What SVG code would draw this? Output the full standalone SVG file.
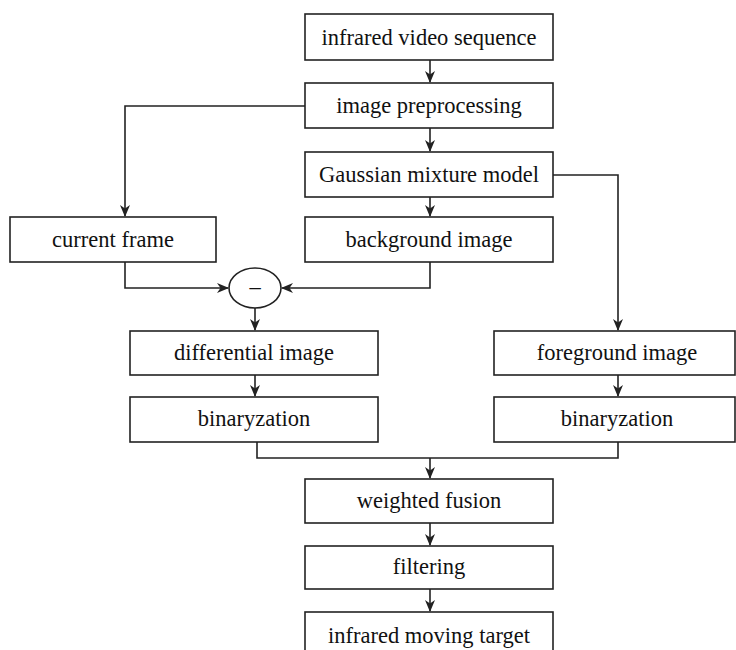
<svg xmlns="http://www.w3.org/2000/svg" width="736" height="650" viewBox="0 0 736 650">
<style>
.box{fill:#fff;stroke:#222;stroke-width:1.6}
.t{font-family:"Liberation Serif","DejaVu Serif",serif;font-size:22.5px;fill:#111;text-anchor:middle}
.c{fill:none;stroke:#222;stroke-width:1.6}
</style>
<defs>
<marker id="ah" markerWidth="12" markerHeight="10" refX="11" refY="5" orient="auto" markerUnits="userSpaceOnUse">
<path d="M0,0 L12,5 L0,10 L3.5,5 z" fill="#222"/>
</marker>
</defs>
<rect width="736" height="650" fill="#fff"/>
<g id="connectors">
<line class="c" x1="430" y1="60" x2="430" y2="82" marker-end="url(#ah)"/>
<line class="c" x1="430" y1="128" x2="430" y2="151" marker-end="url(#ah)"/>
<polyline class="c" points="305,106 125,106 125,216" marker-end="url(#ah)"/>
<line class="c" x1="430" y1="197" x2="430" y2="216" marker-end="url(#ah)"/>
<polyline class="c" points="553,175 618,175 618,330" marker-end="url(#ah)"/>
<polyline class="c" points="125,262 125,288 228,288" marker-end="url(#ah)"/>
<polyline class="c" points="430,262 430,288 282,288" marker-end="url(#ah)"/>
<line class="c" x1="255" y1="308" x2="255" y2="330" marker-end="url(#ah)"/>
<line class="c" x1="255" y1="375" x2="255" y2="396" marker-end="url(#ah)"/>
<line class="c" x1="618" y1="375" x2="618" y2="396" marker-end="url(#ah)"/>
<polyline class="c" points="257,442 257,458 618,458 618,442"/>
<line class="c" x1="430" y1="458" x2="430" y2="478" marker-end="url(#ah)"/>
<line class="c" x1="430" y1="523" x2="430" y2="545" marker-end="url(#ah)"/>
<line class="c" x1="430" y1="589" x2="430" y2="611" marker-end="url(#ah)"/>
</g>
<g id="n1"><rect class="box" x="305" y="14" width="248" height="46"/><text class="t" x="429" y="45">infrared video sequence</text></g>
<g id="n2"><rect class="box" x="305" y="83" width="248" height="45"/><text class="t" x="429" y="113">image preprocessing</text></g>
<g id="n3"><rect class="box" x="305" y="152" width="248" height="45"/><text class="t" x="429" y="182">Gaussian mixture model</text></g>
<g id="n4"><rect class="box" x="10" y="217" width="206" height="45"/><text class="t" x="113" y="247">current frame</text></g>
<g id="n5"><rect class="box" x="305" y="217" width="248" height="45"/><text class="t" x="429" y="247">background image</text></g>
<g id="n6"><ellipse class="box" cx="255" cy="288" rx="26" ry="20"/><text class="t" x="255" y="294">–</text></g>
<g id="n7"><rect class="box" x="130" y="331" width="248" height="44"/><text class="t" x="254" y="360">differential image</text></g>
<g id="n8"><rect class="box" x="130" y="397" width="248" height="45"/><text class="t" x="254" y="426">binaryzation</text></g>
<g id="n9"><rect class="box" x="494" y="331" width="241" height="44"/><text class="t" x="617" y="360">foreground image</text></g>
<g id="n10"><rect class="box" x="494" y="397" width="241" height="45"/><text class="t" x="617" y="426">binaryzation</text></g>
<g id="n11"><rect class="box" x="305" y="479" width="248" height="44"/><text class="t" x="429" y="508">weighted fusion</text></g>
<g id="n12"><rect class="box" x="305" y="546" width="248" height="43"/><text class="t" x="429" y="574">filtering</text></g>
<g id="n13"><rect class="box" x="305" y="612" width="248" height="46"/><text class="t" x="429" y="643">infrared moving target</text></g>
</svg>
